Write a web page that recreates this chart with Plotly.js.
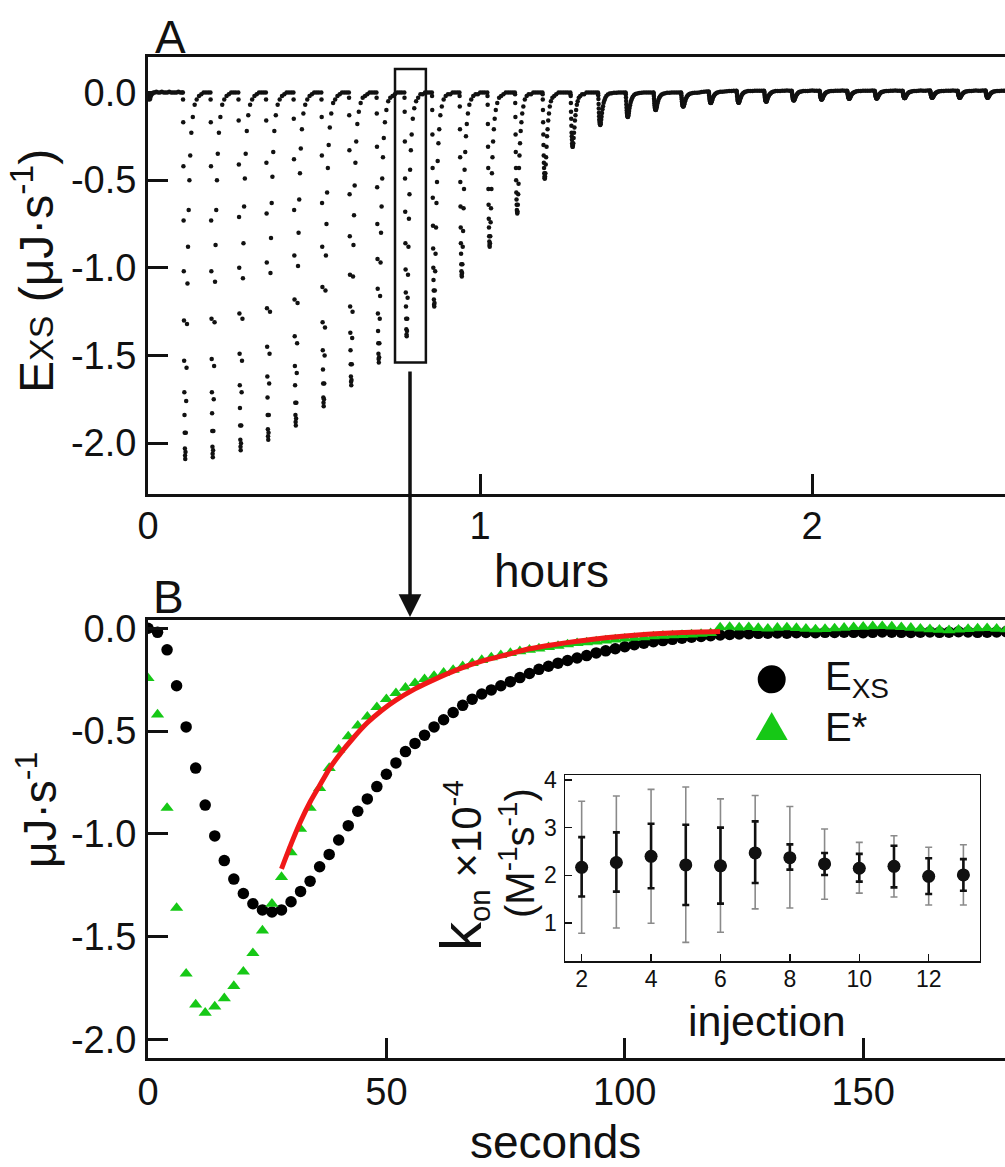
<!DOCTYPE html>
<html>
<head>
<meta charset="utf-8">
<script src="https://cdn.plot.ly/plotly-3.0.1.min.js"></script>
<style>html,body{margin:0;padding:0;overflow:hidden;background:#fff}</style>
</head>
<body>
<div id="chart"></div>
<script>
// ---------------- Panel A: raw ITC trace ----------------
const preSec = [0,8,16,24,32,40,50,60,75,90,110,130,150,170,190,210,230,250,270,290,310,330,350,370];
const preVal = [-0.01,-0.03,-0.04,-0.035,-0.02,-0.01,-0.005,0,0,0.005,0,0,0.005,0,0,0,0.005,0,0,0,0,0.005,0,0];
const injHours = [0.105,0.188,0.272,0.355,0.438,0.522,0.605,0.688,0.772,0.855,0.938,1.022,1.105,1.188,1.272,1.355,1.438,1.522,1.605,1.688,1.772,1.855,1.938,2.022,2.105,2.188,2.272,2.355,2.438,2.522,2.605];
const dipSec = [0,2,4,6,8,10,12,14,16,18,20,22,24,26,29,32,36,40,45,50,56,63,71,80,92,108,128,150,175,200,225,250,275];
const inj01 = [0,-0.04,-0.17,-0.42,-0.73,-1.02,-1.30,-1.53,-1.71,-1.84,-1.94,-2.03,-2.07,-2.09,-2.05,-1.94,-1.76,-1.57,-1.32,-1.09,-0.88,-0.67,-0.50,-0.36,-0.23,-0.14,-0.07,-0.04,-0.02,-0.01,0,0,0];
const inj02 = [0,-0.04,-0.17,-0.42,-0.73,-1.02,-1.29,-1.52,-1.71,-1.83,-1.93,-2.02,-2.06,-2.08,-2.04,-1.93,-1.75,-1.56,-1.31,-1.08,-0.87,-0.67,-0.50,-0.35,-0.23,-0.14,-0.07,-0.04,-0.02,-0.01,0,0,0];
const inj03 = [0,-0.04,-0.16,-0.41,-0.71,-1.00,-1.26,-1.49,-1.67,-1.80,-1.90,-1.98,-2.02,-2.04,-2.00,-1.90,-1.71,-1.53,-1.29,-1.06,-0.86,-0.65,-0.49,-0.35,-0.22,-0.13,-0.07,-0.04,-0.02,-0.01,0,0,0];
const inj04 = [0,-0.04,-0.16,-0.40,-0.69,-0.97,-1.23,-1.45,-1.62,-1.74,-1.84,-1.92,-1.96,-1.98,-1.94,-1.84,-1.66,-1.49,-1.25,-1.03,-0.83,-0.63,-0.48,-0.34,-0.22,-0.13,-0.07,-0.04,-0.02,-0.01,0,0,0];
const inj05 = [0,-0.04,-0.15,-0.38,-0.67,-0.93,-1.18,-1.39,-1.56,-1.67,-1.77,-1.84,-1.88,-1.90,-1.86,-1.77,-1.60,-1.43,-1.20,-0.99,-0.80,-0.61,-0.46,-0.32,-0.21,-0.12,-0.07,-0.04,-0.02,-0.01,0,0,0];
const inj06 = [0,-0.04,-0.14,-0.36,-0.63,-0.88,-1.11,-1.31,-1.47,-1.58,-1.66,-1.74,-1.77,-1.79,-1.75,-1.66,-1.50,-1.34,-1.13,-0.93,-0.75,-0.57,-0.43,-0.30,-0.20,-0.12,-0.06,-0.04,-0.02,-0.01,0,0,0];
const inj07 = [0,-0.03,-0.13,-0.33,-0.58,-0.82,-1.04,-1.22,-1.37,-1.47,-1.55,-1.62,-1.65,-1.67,-1.64,-1.55,-1.40,-1.25,-1.05,-0.87,-0.70,-0.53,-0.40,-0.28,-0.18,-0.11,-0.06,-0.03,-0.02,-0.01,0,0,0];
const inj08 = [0,-0.03,-0.12,-0.31,-0.54,-0.75,-0.95,-1.12,-1.26,-1.36,-1.43,-1.49,-1.52,-1.54,-1.51,-1.43,-1.29,-1.16,-0.97,-0.80,-0.65,-0.49,-0.37,-0.26,-0.17,-0.10,-0.05,-0.03,-0.02,-0.01,0,0,0];
const inj09 = [0,-0.03,-0.11,-0.28,-0.49,-0.68,-0.86,-1.01,-1.14,-1.22,-1.29,-1.35,-1.38,-1.39,-1.36,-1.29,-1.17,-1.04,-0.88,-0.72,-0.58,-0.44,-0.33,-0.24,-0.15,-0.09,-0.05,-0.03,-0.01,-0.01,0,0,0];
const inj10 = [0,-0.02,-0.10,-0.24,-0.43,-0.60,-0.76,-0.89,-1.00,-1.07,-1.13,-1.18,-1.21,-1.22,-1.20,-1.13,-1.02,-0.92,-0.77,-0.63,-0.51,-0.39,-0.29,-0.21,-0.13,-0.08,-0.04,-0.02,-0.01,-0.01,0,0,0];
const inj11 = [0,-0.02,-0.08,-0.21,-0.37,-0.51,-0.65,-0.77,-0.86,-0.92,-0.98,-1.02,-1.04,-1.05,-1.03,-0.98,-0.88,-0.79,-0.66,-0.55,-0.44,-0.34,-0.25,-0.18,-0.12,-0.07,-0.04,-0.02,-0.01,-0.01,0,0,0];
const inj12 = [0,-0.02,-0.07,-0.18,-0.31,-0.43,-0.55,-0.64,-0.72,-0.77,-0.82,-0.85,-0.87,-0.88,-0.86,-0.82,-0.74,-0.66,-0.55,-0.46,-0.37,-0.28,-0.21,-0.15,-0.10,-0.06,-0.03,-0.02,-0.01,0,0,0,0];
const inj13 = [0,-0.01,-0.06,-0.14,-0.24,-0.34,-0.43,-0.50,-0.57,-0.61,-0.64,-0.67,-0.68,-0.69,-0.68,-0.64,-0.58,-0.52,-0.43,-0.36,-0.29,-0.22,-0.17,-0.12,-0.08,-0.04,-0.02,-0.01,-0.01,0,0,0,0];
const inj14 = [0,-0.01,-0.04,-0.10,-0.17,-0.24,-0.30,-0.36,-0.40,-0.43,-0.46,-0.48,-0.49,-0.49,-0.48,-0.46,-0.41,-0.37,-0.31,-0.25,-0.21,-0.16,-0.12,-0.08,-0.05,-0.03,-0.02,-0.01,0,0,0,0,0];
const inj15 = [0,-0.01,-0.02,-0.06,-0.11,-0.15,-0.19,-0.23,-0.25,-0.27,-0.29,-0.30,-0.31,-0.31,-0.30,-0.29,-0.26,-0.23,-0.20,-0.16,-0.13,-0.10,-0.07,-0.05,-0.03,-0.02,-0.01,-0.01,0,0,0,0,0];
const inj16 = [0,-0.004,-0.015,-0.037,-0.065,-0.091,-0.115,-0.135,-0.152,-0.163,-0.172,-0.179,-0.183,-0.185,-0.181,-0.172,-0.155,-0.139,-0.117,-0.096,-0.078,-0.059,-0.044,-0.031,-0.020,-0.012,-0.006,-0.004,-0.002,-0.001,0,0,0];
const inj17 = [0,-0.003,-0.011,-0.028,-0.049,-0.069,-0.087,-0.102,-0.115,-0.123,-0.130,-0.136,-0.139,-0.140,-0.137,-0.130,-0.118,-0.105,-0.088,-0.073,-0.059,-0.045,-0.034,-0.024,-0.015,-0.009,-0.005,-0.003,-0.001,0,0,0,0];
const inj18 = [0,-0.002,-0.008,-0.020,-0.035,-0.049,-0.062,-0.073,-0.082,-0.088,-0.093,-0.097,-0.099,-0.100,-0.098,-0.093,-0.084,-0.075,-0.063,-0.052,-0.042,-0.032,-0.024,-0.017,-0.011,-0.007,-0.004,-0.002,-0.001,0,0,0,0];
const inj19 = [0,-0.002,-0.006,-0.016,-0.028,-0.039,-0.050,-0.058,-0.066,-0.070,-0.074,-0.078,-0.079,-0.080,-0.078,-0.074,-0.067,-0.060,-0.050,-0.042,-0.034,-0.026,-0.019,-0.014,-0.009,-0.005,-0.003,-0.002,-0.001,0,0.003,0.005,0.006];
const inj20 = [0.006,0.005,0.001,-0.007,-0.017,-0.026,-0.035,-0.042,-0.048,-0.052,-0.055,-0.058,-0.059,-0.060,-0.059,-0.055,-0.049,-0.044,-0.036,-0.028,-0.022,-0.015,-0.010,-0.005,-0.001,0.002,0.004,0.005,0.006,0.007,0.008,0.009,0.01];
const inj21 = [0.01,0.009,0.005,-0.004,-0.014,-0.023,-0.032,-0.040,-0.046,-0.050,-0.053,-0.056,-0.057,-0.058,-0.057,-0.053,-0.047,-0.041,-0.033,-0.025,-0.019,-0.012,-0.006,-0.002,0.003,0.006,0.008,0.009,0.009,0.01,0.01,0.01,0.01];
const inj22 = [0.01,0.009,0.005,-0.002,-0.012,-0.020,-0.028,-0.035,-0.041,-0.045,-0.048,-0.050,-0.051,-0.052,-0.051,-0.048,-0.042,-0.036,-0.029,-0.022,-0.016,-0.010,-0.005,-0.001,0.003,0.006,0.008,0.009,0.009,0.01,0.01,0.011,0.01];
const inj23 = [0.01,0.009,0.006,-0.001,-0.009,-0.017,-0.024,-0.030,-0.035,-0.038,-0.041,-0.043,-0.044,-0.045,-0.044,-0.041,-0.036,-0.031,-0.025,-0.019,-0.013,-0.008,-0.003,0.001,0.004,0.006,0.008,0.009,0.009,0.01,0.011,0.01,0.01];
const inj24 = [0.01,0.009,0.006,0,-0.008,-0.015,-0.021,-0.027,-0.031,-0.034,-0.037,-0.039,-0.040,-0.040,-0.039,-0.037,-0.032,-0.028,-0.022,-0.016,-0.011,-0.006,-0.002,0.002,0.005,0.007,0.008,0.009,0.01,0.01,0.01,0.011,0.01];
const inj25 = [0.01,0.009,0.006,0.001,-0.006,-0.012,-0.018,-0.023,-0.027,-0.030,-0.032,-0.034,-0.035,-0.035,-0.034,-0.032,-0.028,-0.024,-0.018,-0.013,-0.009,-0.004,-0.001,0.002,0.005,0.007,0.008,0.009,0.01,0.01,0.01,0.01,0.011];
const inj26 = [0.01,0.009,0.006,0.001,-0.005,-0.012,-0.017,-0.022,-0.026,-0.029,-0.031,-0.033,-0.034,-0.034,-0.033,-0.031,-0.027,-0.023,-0.018,-0.013,-0.008,-0.004,0,0.003,0.005,0.007,0.008,0.009,0.01,0.01,0.011,0.01,0.01];
const inj27 = [0.01,0.009,0.007,0.002,-0.005,-0.011,-0.016,-0.021,-0.024,-0.027,-0.029,-0.031,-0.032,-0.032,-0.031,-0.029,-0.025,-0.022,-0.016,-0.012,-0.008,-0.003,0,0.003,0.005,0.007,0.009,0.009,0.01,0.011,0.01,0.01,0.011];
const inj28 = [0.011,0.01,0.007,0.002,-0.004,-0.010,-0.015,-0.019,-0.023,-0.025,-0.027,-0.029,-0.030,-0.030,-0.029,-0.027,-0.024,-0.020,-0.015,-0.011,-0.007,-0.003,0,0.003,0.006,0.007,0.009,0.009,0.01,0.01,0.01,0.011,0.01];
const inj29 = [0.01,0.009,0.007,0.002,-0.004,-0.010,-0.015,-0.019,-0.023,-0.025,-0.027,-0.029,-0.030,-0.030,-0.029,-0.027,-0.024,-0.020,-0.015,-0.011,-0.007,-0.003,0,0.003,0.006,0.007,0.009,0.009,0.01,0.011,0.01,0.01,0.011];
const inj30 = [0.011,0.01,0.007,0.002,-0.004,-0.010,-0.015,-0.019,-0.023,-0.025,-0.027,-0.029,-0.030,-0.030,-0.029,-0.027,-0.024,-0.020,-0.015,-0.011,-0.007,-0.003,0,0.003,0.006,0.007,0.009,0.009,0.01,0.01,0.011,0.01,0.01];
const inj31 = [0.01,0.009,0.007,0.002,-0.004,-0.010,-0.015,-0.019,-0.023,-0.025,-0.027,-0.029,-0.030,-0.030,-0.029,-0.027,-0.024,-0.020,-0.015,-0.011,-0.007,-0.003,0,0.003,0.006,0.007,0.009,0.009,0.01,0.01,0.01,0.01,0.01];
const injDips = [inj01,inj02,inj03,inj04,inj05,inj06,inj07,inj08,inj09,inj10,inj11,inj12,inj13,inj14,inj15,inj16,inj17,inj18,inj19,inj20,inj21,inj22,inj23,inj24,inj25,inj26,inj27,inj28,inj29,inj30,inj31];
const zoomWindowHours = [0.744, 0.837];
const zoomWindowFlux = [-1.54, 0.134];
const aXTicks = [0,1,2];
const aXTickText = ['0','1','2'];
const aYTicks = [0,-0.5,-1,-1.5,-2];
const aYTickText = ['0.0','-0.5','-1.0','-1.5','-2.0'];

// ---------------- Panel B: single injection ----------------
const bSec = [0,2,4,6,8,10,12,14,16,18,20,22,24,26,28,30,32,34,36,38,40,42,44,46,48,50,52,54,56,58,60,62,64,66,68,70,72,74,76,78,80,82,84,86,88,90,92,94,96,98,100,102,104,106,108,110,112,114,116,118,120,122,124,126,128,130,132,134,136,138,140,142,144,146,148,150,152,154,156,158,160,162,164,166,168,170,172,174,176,178,180,182,184,186,188,190,192,194,196,198,200,202,204,206,208];
const eXS = [0,-0.02,-0.105,-0.28,-0.48,-0.68,-0.86,-1.01,-1.13,-1.22,-1.29,-1.34,-1.37,-1.38,-1.37,-1.33,-1.28,-1.23,-1.16,-1.10,-1.03,-0.96,-0.89,-0.83,-0.77,-0.71,-0.655,-0.60,-0.56,-0.52,-0.48,-0.445,-0.41,-0.375,-0.345,-0.32,-0.30,-0.28,-0.26,-0.24,-0.22,-0.20,-0.185,-0.17,-0.157,-0.145,-0.133,-0.12,-0.11,-0.10,-0.09,-0.08,-0.073,-0.066,-0.06,-0.054,-0.049,-0.044,-0.04,-0.036,-0.033,-0.03,-0.028,-0.027,-0.025,-0.024,-0.023,-0.024,-0.022,-0.021,-0.022,-0.02,-0.021,-0.019,-0.02,-0.022,-0.02,-0.018,-0.019,-0.02,-0.021,-0.019,-0.018,-0.02,-0.019,-0.017,-0.018,-0.02,-0.019,-0.018,-0.017,-0.018,-0.019,-0.017,-0.018,-0.016,-0.018,-0.017,-0.019,-0.018,-0.016,-0.017,-0.018,-0.017,-0.016];
const eStar = [-0.243,-0.42,-0.874,-1.36,-1.68,-1.83,-1.87,-1.84,-1.80,-1.74,-1.67,-1.58,-1.47,-1.34,-1.21,-1.09,-0.976,-0.874,-0.777,-0.68,-0.59,-0.526,-0.474,-0.43,-0.384,-0.345,-0.316,-0.29,-0.267,-0.248,-0.232,-0.217,-0.203,-0.185,-0.17,-0.155,-0.142,-0.131,-0.121,-0.112,-0.105,-0.099,-0.092,-0.086,-0.079,-0.073,-0.069,-0.065,-0.06,-0.055,-0.051,-0.047,-0.044,-0.04,-0.037,-0.035,-0.033,-0.031,-0.028,-0.024,0.004,0.006,0.003,0.005,0.001,-0.002,0.002,0.004,0.001,-0.003,-0.006,-0.004,-0.001,0.002,0.005,0.007,0.009,0.01,0.008,0.005,0.002,-0.002,-0.005,-0.008,-0.01,-0.007,-0.004,-0.001,0,-0.003,-0.006,-0.008,-0.005,-0.003,0,0.002,0,-0.003,-0.005,-0.004,-0.002,0,0.001,-0.002,-0.004];
const fitSec = [28,30,32,34,36,38,40,43,46,49,52,56,60,65,70,75,80,85,90,96,104,112,120];
const fitVal = [-1.17,-1.05,-0.94,-0.845,-0.765,-0.685,-0.62,-0.535,-0.46,-0.40,-0.35,-0.295,-0.25,-0.20,-0.16,-0.13,-0.10,-0.08,-0.063,-0.046,-0.03,-0.021,-0.016];
const bXTicks = [0,50,100,150];
const bYTicks = [0,-0.5,-1,-1.5,-2];
const bYTickText = ['0.0','-0.5','-1.0','-1.5','-2.0'];

// ---------------- Inset: k_on per injection ----------------
const injNo = [2,3,4,5,6,7,8,9,10,11,12,13];
const kon = [2.17,2.27,2.40,2.22,2.20,2.47,2.37,2.24,2.15,2.19,1.98,2.01];
const konErrPlus = [0.63,0.63,0.68,0.84,0.80,0.66,0.28,0.23,0.30,0.43,0.38,0.33];
const konErrMinus = [0.61,0.61,0.67,0.84,0.79,0.63,0.25,0.23,0.28,0.44,0.37,0.33];
const konRangePlus = [1.38,1.39,1.40,1.63,1.40,1.20,1.07,0.73,0.54,0.64,0.61,0.63];
const konRangeMinus = [1.38,1.37,1.40,1.62,1.39,1.17,1.05,0.74,0.52,0.64,0.60,0.63];
const cXTicks = [2,4,6,8,10,12];
const cYTicks = [1,2,3,4];

// ---------------- build ----------------
const W = 1150, H = 1167;
const px = v => v / W;
const py = v => 1 - v / H;
const FONT = "'Liberation Sans', Arial, Helvetica, sans-serif";

const aX = [], aY = [];
preSec.forEach((s, i) => { aX.push(s / 3600); aY.push(preVal[i]); });
injDips.forEach((arr, k) => {
  const n = Math.min(arr.length, dipSec.length);
  for (let j = 0; j < n; j++) { aX.push(injHours[k] + dipSec[j] / 3600); aY.push(arr[j]); }
});

const traces = [
  {x: aX, y: aY, xaxis: 'x', yaxis: 'y', type: 'scatter', mode: 'markers',
   marker: {size: 4.5, color: '#111'}, hoverinfo: 'skip'},
  {x: bSec, y: eXS, xaxis: 'x2', yaxis: 'y2', type: 'scatter', mode: 'markers', name: 'E_XS',
   marker: {size: 11.5, color: '#000', symbol: 'circle'}},
  {x: bSec, y: eStar, xaxis: 'x2', yaxis: 'y2', type: 'scatter', mode: 'markers', name: 'E*',
   marker: {size: 11.5, color: '#16c816', symbol: 'triangle-up'}},
  {x: fitSec, y: fitVal, xaxis: 'x2', yaxis: 'y2', type: 'scatter', mode: 'lines',
   line: {color: '#f01818', width: 5, shape: 'spline', smoothing: 0.6}},
  {x: injNo, y: kon, xaxis: 'x3', yaxis: 'y3', type: 'scatter', mode: 'markers',
   marker: {size: 12, color: '#111'},
   error_y: {type: 'data', symmetric: false, array: konRangePlus, arrayminus: konRangeMinus,
             color: '#8a8a8a', thickness: 1.6, width: 3.5}},
  {x: injNo, y: kon, xaxis: 'x3', yaxis: 'y3', type: 'scatter', mode: 'markers',
   marker: {size: 13, color: '#111'},
   error_y: {type: 'data', symmetric: false, array: konErrPlus, arrayminus: konErrMinus,
             color: '#111', thickness: 2.6, width: 3.5}}
];

const axBase = {showgrid: false, zeroline: false, showline: true, mirror: true, linecolor: '#111',
  linewidth: 3, ticks: 'inside', ticklen: 20, tickwidth: 3, tickcolor: '#111',
  tickfont: {family: FONT, size: 38, color: '#111'}};

function note(text, x, y, size, extra) {
  return Object.assign({text: text, x: px(x), y: py(y), xref: 'paper', yref: 'paper',
    xanchor: 'center', yanchor: 'middle', showarrow: false,
    font: {family: FONT, size: size, color: '#111'}}, extra || {});
}

const layout = {
  width: W, height: H, margin: {l: 0, r: 0, t: 0, b: 0},
  paper_bgcolor: '#fff', plot_bgcolor: '#fff', showlegend: false,
  font: {family: FONT, color: '#111'},
  xaxis: Object.assign({}, axBase, {domain: [px(148), px(1144)], range: [0, 3], anchor: 'y',
    tickmode: 'array', tickvals: aXTicks, ticktext: aXTickText, ticklabelstandoff: -4}),
  yaxis: Object.assign({}, axBase, {domain: [py(494), py(57)], range: [-2.29, 0.2025], anchor: 'x',
    tickmode: 'array', tickvals: aYTicks, ticktext: aYTickText, ticklabelstandoff: 1}),
  xaxis2: Object.assign({}, axBase, {domain: [px(148), px(1144)], range: [0, 208.9], anchor: 'y2',
    tickmode: 'array', tickvals: bXTicks, ticklabelstandoff: -2}),
  yaxis2: Object.assign({}, axBase, {domain: [py(1058), py(620)], range: [-2.09, 0.04], anchor: 'x2',
    tickmode: 'array', tickvals: bYTicks, ticktext: bYTickText, ticklabelstandoff: 1}),
  xaxis3: Object.assign({}, axBase, {domain: [px(565), px(979.7)], range: [1.52, 13.47], anchor: 'y3',
    tickmode: 'array', tickvals: cXTicks, linewidth: 1.5, ticklen: 7, tickwidth: 1.5,
    tickfont: {family: FONT, size: 23, color: '#111'}, ticklabelstandoff: -3}),
  yaxis3: Object.assign({}, axBase, {domain: [py(961), py(775)], range: [0.21, 4.1], anchor: 'x3',
    tickmode: 'array', tickvals: cYTicks, linewidth: 1.5, ticklen: 7, tickwidth: 1.5,
    tickfont: {family: FONT, size: 23, color: '#111'}, ticklabelstandoff: 2}),
  shapes: [
    {type: 'rect', xref: 'x', yref: 'y', x0: zoomWindowHours[0], x1: zoomWindowHours[1],
     y0: zoomWindowFlux[0], y1: zoomWindowFlux[1], line: {color: '#111', width: 2.5}},
    {type: 'circle', xref: 'paper', yref: 'paper', x0: px(757.7), x1: px(785.7), y0: py(693.3), y1: py(665.3),
     fillcolor: '#000', line: {color: '#000', width: 0}},
    {type: 'path', xref: 'paper', yref: 'paper',
     path: 'M ' + px(755.7) + ' ' + py(740) + ' L ' + px(787.7) + ' ' + py(740) + ' L ' + px(771.7) + ' ' + py(712) + ' Z',
     fillcolor: '#16c816', line: {color: '#16c816', width: 0}}
  ],
  annotations: [
    note('A', 170, 37, 46),
    note('B', 168, 597, 46),
    note('hours', 551, 571, 46),
    note('seconds', 555, 1142, 46),
    note("E<span style='font-size:34px'>XS</span> (μJ·s<sup>-1</sup>)", 33, 271, 48, {textangle: -90}),
    note('μJ·s<sup>-1</sup>', 37, 810, 46, {textangle: -90}),
    note("<span style='font-size:58px'>k</span><sub>on</sub> ×10<sup>-4</sup>", 462, 866, 42, {textangle: -90}),
    note('(M<sup>-1</sup>s<sup>-1</sup>)', 517, 853, 40, {textangle: -90}),
    note('injection', 767, 1021, 43),
    note('E<sub>XS</sub>', 823, 679, 40, {xanchor: 'left'}),
    note('E*', 823, 727, 40, {xanchor: 'left'}),
    {text: ' ', x: px(410), y: py(617), xref: 'paper', yref: 'paper', showarrow: true,
     ax: 0, ay: -254, arrowhead: 2, arrowsize: 1.3, arrowwidth: 3.5, arrowcolor: '#111', standoff: 0}
  ]
};

Plotly.newPlot('chart', traces, layout, {displayModeBar: false, staticPlot: true});
</script>
</body>
</html>
